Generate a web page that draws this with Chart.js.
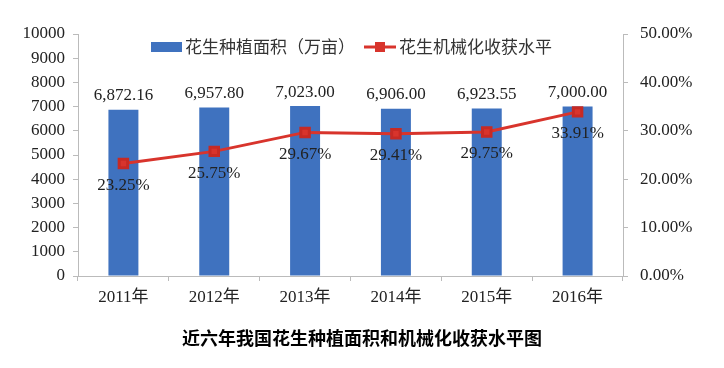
<!DOCTYPE html>
<html>
<head>
<meta charset="utf-8">
<script src="https://cdn.jsdelivr.net/npm/chart.js@4/dist/chart.umd.min.js"></script>
<style>
  html, body { margin: 0; padding: 0; background: #fff; }
  #wrap { width: 724px; height: 368px; }
</style>
</head>
<body>
<div id="wrap"><canvas id="chart" width="724" height="368"></canvas></div>
<script>
// 数据
const years = ['2011年', '2012年', '2013年', '2014年', '2015年', '2016年'];
const areaValues = [6872.16, 6957.80, 7023.00, 6906.00, 6923.55, 7000.00];
const mechRates = [23.25, 25.75, 29.67, 29.41, 29.75, 33.91];
const areaLabel = '花生种植面积（万亩）';
const rateLabel = '花生机械化收获水平';
const chartTitle = '近六年我国花生种植面积和机械化收获水平图';

const serif = '"Liberation Serif", "Times New Roman", "Noto Sans CJK SC", serif';
const cjk = '"Noto Sans CJK SC", "Liberation Serif", sans-serif';
const blue = '#3f72bf';
const red = '#d8342c';

// 数字格式 6,872.16
function fmt(v) {
    return v.toLocaleString('en-US', { minimumFractionDigits: 2, maximumFractionDigits: 2 });
}

// 标签、图例和标题
const labelPlugin = {
    id: 'extras',
    afterDatasetsDraw(chart) {
        const ctx = chart.ctx;
        ctx.save();
        ctx.fillStyle = '#222';
        ctx.font = '17px ' + serif;
        ctx.textAlign = 'center';
        ctx.textBaseline = 'middle';

        chart.getDatasetMeta(1).data.forEach((bar, i) => {
            ctx.fillText(fmt(areaValues[i]), bar.x, bar.y - 14);
        });
        chart.getDatasetMeta(0).data.forEach((pt, i) => {
            ctx.fillText(mechRates[i].toFixed(2) + '%', pt.x, pt.y + 22);
        });

        // 图例
        ctx.fillStyle = blue;
        ctx.fillRect(151, 42, 31, 10);
        ctx.fillStyle = '#333';
        ctx.font = '17px ' + cjk;
        ctx.textAlign = 'left';
        ctx.fillText(areaLabel, 185, 47);

        ctx.strokeStyle = red;
        ctx.lineWidth = 3;
        ctx.beginPath();
        ctx.moveTo(364, 47);
        ctx.lineTo(396, 47);
        ctx.stroke();
        ctx.fillStyle = red;
        ctx.fillRect(375, 42, 10, 10);
        ctx.fillStyle = '#333';
        ctx.fillText(rateLabel, 399, 47);

        // 标题
        ctx.fillStyle = '#000';
        ctx.font = 'bold 18px ' + cjk;
        ctx.textAlign = 'center';
        ctx.fillText(chartTitle, 362, 338);
        ctx.restore();
    }
};

new Chart(document.getElementById('chart'), {
    data: {
        labels: years,
        datasets: [{
            type: 'line',
            label: rateLabel,
            data: mechRates,
            yAxisID: 'y1',
            borderColor: red,
            backgroundColor: red,
            borderWidth: 3,
            pointStyle: 'rect',
            pointRadius: 6,
            pointBorderColor: '#c62a24',
            pointBackgroundColor: red,
            tension: 0
        }, {
            type: 'bar',
            label: areaLabel,
            data: areaValues,
            yAxisID: 'y',
            backgroundColor: blue,
            barPercentage: 0.66,
            categoryPercentage: 0.5
        }]
    },
    plugins: [labelPlugin],
    options: {
        responsive: false,
        animation: false,
        layout: { padding: { top: 34, right: 0, bottom: 0, left: 0 } },
        plugins: {
            legend: { display: false },
            tooltip: { enabled: false }
        },
        scales: {
            x: {
                grid: { drawOnChartArea: false, color: '#bbb', tickLength: 5 },
                border: { color: '#bbb' },
                ticks: { color: '#222', font: { family: serif, size: 17 }, padding: 6 },
                afterFit(scale) { scale.height = 92; }
            },
            y: {
                position: 'left',
                min: 0,
                max: 10000,
                ticks: {
                    stepSize: 1000,
                    color: '#222',
                    font: { family: serif, size: 17 },
                    padding: 8,
                    callback: v => String(v)
                },
                grid: { drawOnChartArea: false, color: '#bbb', tickLength: 5 },
                border: { color: '#bbb' },
                afterFit(scale) { scale.width = 78; }
            },
            y1: {
                position: 'right',
                min: 0,
                max: 50,
                ticks: {
                    stepSize: 10,
                    color: '#222',
                    font: { family: serif, size: 17 },
                    padding: 12,
                    callback: v => v.toFixed(2) + '%'
                },
                grid: { drawOnChartArea: false, color: '#bbb', tickLength: 5 },
                border: { color: '#bbb' },
                afterFit(scale) { scale.width = 101; }
            }
        }
    }
});
</script>
</body>
</html>
